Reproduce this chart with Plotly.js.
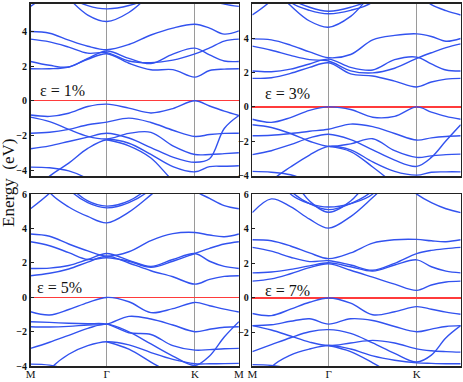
<!DOCTYPE html>
<html>
<head>
<meta charset="utf-8">
<script src="https://cdn.plot.ly/plotly-3.0.1.min.js"></script>
<style>
  html, body { margin: 0; padding: 0; background: #fff; }
  #chart { width: 463px; height: 382px; }
</style>
</head>
<body>
<div id="chart"></div>
<script>
// k-path M-Γ-K-M (path length units) and high-symmetry labels
const kPath = [0, 0.144, 0.289, 0.433, 0.577, 0.744, 0.911, 1.077, 1.244, 1.355, 1.466, 1.577];
const kTicks = [0, 0.577, 1.244, 1.577];
const kLabels = ["M", "Γ", "K", "M"];
const strainLabels = ["ε = 1%", "ε = 3%", "ε = 5%", "ε = 7%"];

// energies (eV), one row per band
const bands1 = [
  [5.45, 6.3, 7.5, 8, 8, 8, 8, 7.5, 6.6, 5.85, 5.58, 5.45],
  [8, 7, 6.0, 5.5, 5.31, 5.5, 6.0, 7, 8, 8, 8, 8],
  [8, 7, 5.9, 4.95, 4.58, 5.1, 6.2, 7.5, 8, 8, 8, 8],
  [4.0, 3.9, 3.5, 3.15, 2.95, 3.25, 3.8, 4.2, 4.42, 4.2, 3.85, 4.04],
  [3.56, 3.4, 3.1, 2.75, 2.78, 2.3, 2.2, 2.35, 2.71, 3.05, 3.45, 3.56],
  [2.27, 2.05, 1.95, 2.45, 2.88, 2.45, 2.15, 2.7, 3.04, 2.65, 2.3, 2.27],
  [1.85, 1.85, 1.95, 2.4, 2.72, 2.17, 1.79, 1.8, 1.37, 1.75, 1.83, 1.85],
  [-0.82, -0.9, -0.72, -0.33, -0.19, -0.42, -0.7, -0.45, 0.0, -0.3, -0.6, -0.85],
  [-1.87, -1.82, -1.65, -1.38, -1.23, -1.0, -1.25, -1.7, -2.06, -1.95, -1.88, -1.87],
  [-0.94, -1.2, -1.65, -2.05, -2.2, -1.88, -1.82, -2.6, -3.1, -3.1, -3.05, -3.0],
  [-2.77, -2.6, -2.35, -2.1, -1.87, -2.15, -2.7, -3.25, -3.55, -3.35, -1.6, -0.85],
  [-5.5, -4.35, -3.6, -2.75, -2.25, -2.45, -3.1, -3.8, -4.1, -3.8, -3.78, -3.75],
  [-3.83, -3.87, -4.05, -4.5, -5.2, null, null, null, null, null, null, null],
  [null, null, null, null, -2.25, -2.6, -3.3, -4.6, -5.5, null, null, null]
];

const bands2 = [
  [5.35, 6.2, 7.5, 8, 8, 8, 8, 7.5, 6.6, 5.95, 5.6, 5.35],
  [8, 7.5, 6.3, 5.8, 5.57, 5.8, 6.3, 7.5, 8, 8, 8, 8],
  [8, 7.5, 6.1, 5.62, 5.42, 5.62, 6.1, 7.5, 8, 8, 8, 8],
  [8, 7, 5.9, 5.0, 4.64, 5.27, 6.6, 7.5, 8, 8, 8, 8],
  [3.96, 3.9, 3.6, 3.2, 2.86, 3.05, 3.9, 4.16, 4.25, 4.1, 3.82, 3.98],
  [3.54, 3.3, 3.0, 2.75, 2.67, 2.1, 1.98, 2.25, 2.82, 3.15, 3.45, 3.67],
  [2.09, 2.05, 2.2, 2.5, 2.78, 2.3, 2.15, 2.75, 2.9, 2.5, 2.15, 2.09],
  [1.66, 1.7, 1.95, 2.3, 2.57, 1.92, 1.8, 1.5, 1.16, 1.45, 1.62, 1.66],
  [-0.72, -0.9, -0.62, -0.2, 0, -0.15, -0.6, -0.55, 0, -0.3, -0.55, -0.72],
  [-1.68, -1.65, -1.55, -1.42, -1.3, -1.0, -1.15, -1.55, -1.93, -1.8, -1.72, -1.68],
  [-1.04, -1.2, -1.55, -2.0, -2.3, -2.15, -1.85, -2.55, -2.94, -2.85, -2.78, -2.75],
  [-2.78, -2.55, -2.2, -1.8, -1.59, -1.9, -2.5, -3.1, -3.46, -2.94, -1.97, -1.04],
  [-5.5, -4.3, -3.5, -2.8, -2.3, -2.5, -3.2, -3.75, -3.97, -3.8, -3.78, -3.78],
  [-3.75, -3.8, -3.95, -4.4, -5.2, null, null, null, null, null, null, null],
  [null, null, null, null, -2.3, -2.6, -3.5, -4.5, -5.5, null, null, null]
];

const bands3 = [
  [5.15, 6.05, 7.2, 8, 8, 8, 8, 7.5, 6.2, 5.75, 5.33, 5.15],
  [8, 8, 6.5, 5.6, 5.3, 5.6, 6.5, 8, 8, 8, 8, 8],
  [8, 8, 6.3, 5.5, 5.2, 5.5, 6.3, 8, 8, 8, 8, 8],
  [8, 6.1, 5.25, 4.7, 4.33, 4.95, 5.95, 7, 8, 8, 8, 8],
  [3.68, 3.55, 3.1, 2.7, 2.4, 2.65, 3.3, 3.7, 3.77, 3.62, 3.52, 3.68],
  [3.23, 3.0, 2.6, 2.2, 2.3, 2.1, 1.75, 2.1, 2.55, 2.85, 3.1, 3.23],
  [1.68, 1.7, 1.85, 2.2, 2.55, 2.15, 1.8, 2.2, 2.55, 2.1, 1.8, 1.68],
  [1.26, 1.4, 1.65, 2.05, 2.4, 2.0, 1.55, 1.2, 0.77, 1.05, 1.22, 1.26],
  [-0.83, -1.02, -0.7, -0.3, 0, -0.25, -0.88, -0.65, -0.29, -0.48, -0.68, -0.85],
  [-1.7, -1.72, -1.68, -1.6, -1.55, -1.1, -1.25, -1.6, -1.99, -1.85, -1.73, -1.7],
  [-1.41, -1.45, -1.5, -1.53, -1.55, -2.05, -2.15, -2.8, -3.06, -3.03, -2.98, -2.96],
  [-2.96, -2.6, -2.2, -1.8, -1.55, -2.0, -2.7, -3.4, -3.95, -3.4, -2.3, -1.41],
  [-3.87, -3.93, -4.2, -4.8, -5.5, null, null, null, null, null, null, null],
  [-6, -4.2, -3.3, -2.8, -2.57, -2.75, -3.2, -3.6, -3.85, -3.85, -3.84, -3.83],
  [null, null, null, null, -2.57, -3.0, -3.75, -4.5, -5.5, null, null, null]
];

const bands4 = [
  [null, null, null, null, null, null, null, 7, 6.0, 5.5, 5.15, 4.93],
  [4.93, 5.72, 5.27, 4.55, 4.03, 4.7, 5.8, 7, 8, null, null, null],
  [8, 8, 6.0, 5.45, 5.25, 5.45, 6.0, 8, 8, 8, 8, 8],
  [8, 8, 6.2, 5.45, 5.1, 5.45, 6.2, 8, 8, 8, 8, 8],
  [8, 8, 7, 5.6, 4.95, 5.6, 7, 8, 8, 8, 8, 8],
  [3.36, 3.3, 3.0, 2.6, 2.27, 2.6, 3.17, 3.36, 3.38, 3.3, 3.25, 3.36],
  [2.92, 2.7, 2.35, 2.1, 2.15, 1.9, 1.6, 2.0, 2.56, 2.75, 2.85, 2.92],
  [1.45, 1.5, 1.65, 1.85, 2.03, 1.8, 1.55, 1.9, 2.2, 1.8, 1.55, 1.45],
  [0.97, 1.1, 1.4, 1.75, 1.97, 1.6, 1.2, 0.8, 0.44, 0.75, 0.92, 0.97],
  [-0.9, -1.02, -0.65, -0.25, 0, -0.3, -0.97, -0.8, -0.5, -0.65, -0.82, -0.94],
  [-1.6, -1.55, -1.35, -1.2, -1.51, -1.2, -1.3, -1.65, -1.95, -1.8, -1.65, -1.6],
  [-1.6, -1.85, -2.2, -2.55, -2.75, -2.6, -2.45, -2.6, -2.94, -3.05, -3.1, -3.13],
  [-3.1, -2.7, -2.3, -1.95, -1.83, -2.05, -2.6, -3.2, -3.7, -3.3, -2.3, -1.6],
  [-3.85, -3.9, -4.1, -4.6, -5.3, null, null, null, null, null, null, null],
  [-6, -4.0, -3.3, -2.95, -2.75, -2.95, -3.35, -3.6, -3.75, -3.78, -3.8, -3.8],
  [null, null, null, null, -2.75, -3.1, -3.75, -4.5, -5.5, null, null, null]
];

// -------------------------------
// panel setup
// -------------------------------
const serif = "Liberation Serif";
const bandColor = "#3252ef";

const panels = [
  { bands: bands1, ax: "x",  ay: "y",  xd: [0.066, 0.516], yd: [0.538, 0.99], yr: [-4.37, 5.6],  bottom: false, lx: 0.035, ly: 0.50 },
  { bands: bands2, ax: "x2", ay: "y2", xd: [0.545, 0.995], yd: [0.538, 0.99], yr: [-4.05, 6.0],  bottom: false, lx: 0.05,  ly: 0.478 },
  { bands: bands3, ax: "x3", ay: "y3", xd: [0.066, 0.516], yd: [0.041, 0.492], yr: [-4.0, 6.0],  bottom: true,  lx: 0.02,  ly: 0.455 },
  { bands: bands4, ax: "x4", ay: "y4", xd: [0.545, 0.995], yd: [0.041, 0.492], yr: [-3.95, 6.0], bottom: true,  lx: 0.05,  ly: 0.443 }
];

const traces = [];
const layout = {
  width: 463,
  height: 382,
  margin: { l: 0, r: 0, t: 0, b: 0 },
  paper_bgcolor: "white",
  plot_bgcolor: "white",
  showlegend: false,
  annotations: [
    {
      text: "Energy  (eV)",
      xref: "paper", yref: "paper",
      x: 9 / 463, y: 0.521,
      xanchor: "center", yanchor: "middle",
      textangle: -90,
      showarrow: false,
      font: { family: serif, size: 17, color: "#111" }
    }
  ]
};

panels.forEach((p, i) => {
  p.bands.forEach((e) => {
    traces.push({
      x: kPath,
      y: e,
      xaxis: p.ax,
      yaxis: p.ay,
      mode: "lines",
      line: { color: bandColor, width: 1.4, shape: "spline", smoothing: 1 },
      hoverinfo: "skip"
    });
  });

  const xKey = i === 0 ? "xaxis" : "xaxis" + (i + 1);
  const yKey = i === 0 ? "yaxis" : "yaxis" + (i + 1);

  layout[xKey] = {
    domain: p.xd,
    anchor: p.ay,
    range: [kTicks[0], kTicks[kTicks.length - 1]],
    tickvals: kTicks,
    ticktext: kLabels,
    showticklabels: p.bottom,
    ticks: "",
    ticklabelstandoff: -3,
    showgrid: true,
    gridcolor: "#9a9a9a",
    gridwidth: 1,
    zeroline: false,
    showline: true,
    mirror: true,
    linecolor: "#222",
    linewidth: 1.5,
    tickfont: { family: serif, size: 11, color: "#111" }
  };

  layout[yKey] = {
    domain: p.yd,
    anchor: p.ax,
    range: p.yr,
    tickvals: [-4, -2, 0, 2, 4, 6],
    ticks: "inside",
    ticklen: 3,
    tickcolor: "#222",
    showgrid: false,
    zeroline: true,
    zerolinecolor: "#ff3b3b",
    zerolinewidth: 1.2,
    showline: true,
    mirror: true,
    linecolor: "#222",
    linewidth: 1.5,
    tickfont: { family: serif, size: 10, color: "#111", weight: 700 }
  };

  layout.annotations.push({
    text: strainLabels[i],
    xref: p.ax + " domain",
    yref: p.ay + " domain",
    x: p.lx,
    y: p.ly,
    xanchor: "left",
    yanchor: "middle",
    showarrow: false,
    font: { family: serif, size: 16, color: "#111" }
  });
});

Plotly.newPlot("chart", traces, layout, { displayModeBar: false, staticPlot: true });
</script>
</body>
</html>
